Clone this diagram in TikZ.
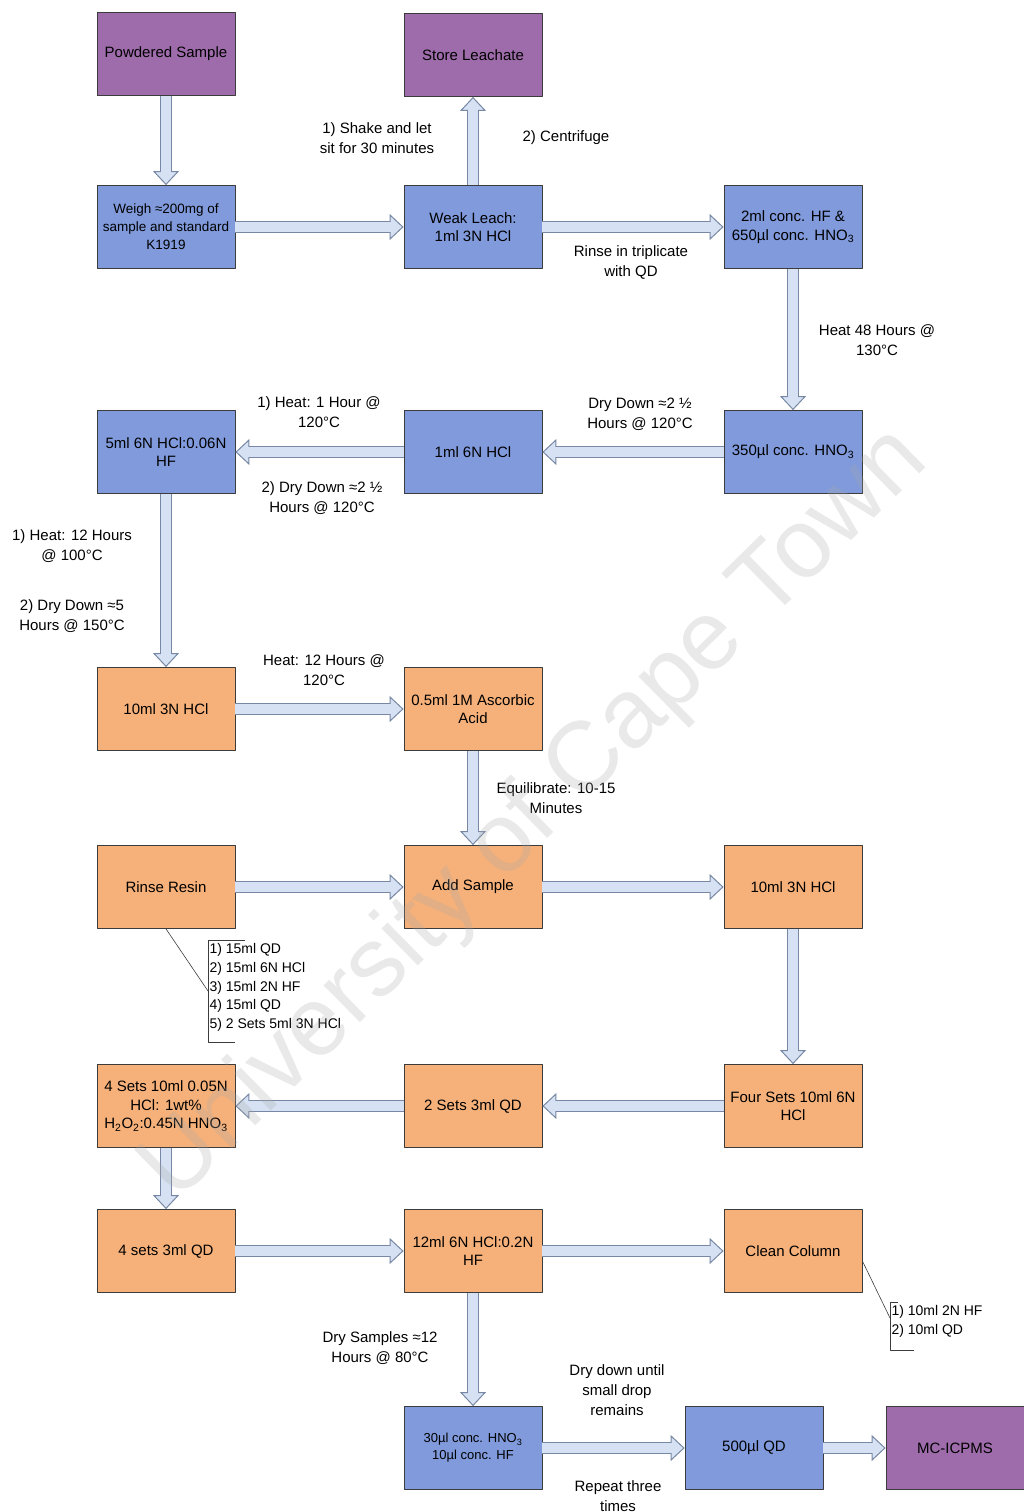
\documentclass[tikz,border=0pt]{standalone}
\usepackage{fontspec}
\setmainfont{Liberation Sans}
\usetikzlibrary{arrows.meta}
\definecolor{boxblue}{RGB}{128,154,220}
\definecolor{boxpurple}{RGB}{158,108,170}
\definecolor{boxorange}{RGB}{246,177,122}
\definecolor{boxline}{RGB}{60,60,60}
\definecolor{flowfill}{RGB}{214,226,243}
\definecolor{flowedge}{RGB}{120,136,164}
\newcommand{\chemsub}[1]{\textsubscript{#1}}
\begin{document}
\begin{tikzpicture}[x=1pt,y=-1pt,line join=round]
	\tikzset{every node/.style={font=\fontsize{15}{20}\selectfont,align=center},
		box/.style={draw=boxline,line width=0.8pt,minimum width=138pt,minimum height=83pt,inner sep=1pt,font=\fontsize{15}{18.5}\selectfont},
		pbox/.style={box,fill=boxpurple},
		bbox/.style={box,fill=boxblue},
		obox/.style={box,fill=boxorange},
		flow/.style={preaction={draw=flowedge,line width=12pt,-,shorten >=13.5pt},
			draw=flowfill,line width=1pt,
			-{Triangle[width=26pt,length=14pt,fill=flowfill,color=flowedge,line width=1pt]},
			postaction={draw=flowfill,line width=10pt,-,shorten >=12pt}},
		callout/.style={draw=boxline,line width=0.6pt},
		list/.style={anchor=north west,align=left,font=\fontsize{14}{18.7}\selectfont}}
	\useasboundingbox (0,0) rectangle (1024,1512);
	% leaching and digestion
	\node[pbox] (ps) at (166,54) {Powdered Sample};
	\node[pbox] (store) at (473,55) {Store Leachate};
	\node[bbox,font=\fontsize{13.5}{18}\selectfont] (weigh) at (166,227) {Weigh ≈200mg of\\sample and standard\\K1919};
	\node[bbox] (leach) at (473,227) {Weak Leach:\\1ml 3N HCl};
	\node[bbox] (hfmix) at (793,227) {2ml conc. HF \&\\650µl conc. HNO\chemsub{3}};
	\node[bbox] (hno) at (793,452) {350µl conc. HNO\chemsub{3}};
	\node[bbox] (hcla) at (473,452) {1ml 6N HCl};
	\node[bbox] (mixa) at (166,452) {5ml 6N HCl:0.06N\\HF};
	% column chemistry
	\node[obox] (hclb) at (166,709) {10ml 3N HCl};
	\node[obox] (asc) at (473,709) {0.5ml 1M Ascorbic\\Acid};
	\node[obox] (resin) at (166,887) {Rinse Resin};
	\node[obox] (addsmp) at (473,887) {Add Sample};
	\node[obox] (hclc) at (793,887) {10ml 3N HCl};
	\node[obox] (fourset) at (793,1106) {Four Sets 10ml 6N\\HCl};
	\node[obox] (qda) at (473,1106) {2 Sets 3ml QD};
	\node[obox] (mixb) at (166,1106) {4 Sets 10ml 0.05N\\HCl: 1wt\%\\H\chemsub{2}O\chemsub{2}:0.45N HNO\chemsub{3}};
	\node[obox] (qdb) at (166,1251) {4 sets 3ml QD};
	\node[obox] (mixc) at (473,1251) {12ml 6N HCl:0.2N\\HF};
	\node[obox] (clean) at (793,1251) {Clean Column};
	% final dilution
	\node[bbox,font=\fontsize{13}{17}\selectfont] (conc) at (473,1448) {30µl conc. HNO\chemsub{3}\\10µl conc. HF};
	\node[bbox] (qdc) at (754,1448) {500µl QD};
	\node[pbox] (icp) at (955,1448) {MC-ICPMS};
	\foreach \a/\b in {ps/weigh,weigh/leach,leach/store,leach/hfmix,hfmix/hno,hno/hcla,hcla/mixa,mixa/hclb,
		hclb/asc,asc/addsmp,resin/addsmp,addsmp/hclc,hclc/fourset,fourset/qda,qda/mixb,mixb/qdb,
		qdb/mixc,mixc/clean,mixc/conc,conc/qdc,qdc/icp}
	\draw[flow] (\a) -- (\b);
	% step conditions
	\node (shake) at (377,138) {1) Shake and let\\sit for 30 minutes};
	\node (spin) at (566,138) {2) Centrifuge};
	\node (trip) at (631,262) {Rinse in triplicate\\with QD};
	\node (heata) at (877,340) {Heat 48 Hours @\\130°C};
	\node (drya) at (640,414) {Dry Down ≈2 ½\\Hours @ 120°C};
	\node (heatb) at (319,412) {1) Heat: 1 Hour @\\120°C};
	\node (dryb) at (322,498) {2) Dry Down ≈2 ½\\Hours @ 120°C};
	\node (heatc) at (72,546) {1) Heat: 12 Hours\\@ 100°C};
	\node (dryc) at (72,616) {2) Dry Down ≈5\\Hours @ 150°C};
	\node (heatd) at (324,670) {Heat: 12 Hours @\\120°C};
	\node (equil) at (556,798) {Equilibrate: 10-15\\Minutes};
	\node (dryd) at (380,1348) {Dry Samples ≈12\\Hours @ 80°C};
	\node (drop) at (617,1390) {Dry down until\\small drop\\remains};
	\node (rep) at (618,1496) {Repeat three\\times};
	% rinse and cleaning lists
	\coordinate (resinbar) at (208,991);
	\draw[callout] (resin.south) -- (resinbar);
	\draw[callout] (245,940) -- (208,940) -- (208,1042) -- (235,1042);
	\node[list] (resinlist) at (206,940) {1) 15ml QD\\2) 15ml 6N HCl\\3) 15ml 2N HF\\4) 15ml QD\\5) 2 Sets 5ml 3N HCl};
	\coordinate (cleanbar) at (890,1318);
	\draw[callout] ([yshift=-10pt]clean.east) -- (cleanbar);
	\draw[callout] (898,1302) -- (890,1302) -- (890,1350) -- (914,1350);
	\node[list] (cleanlist) at (888,1302) {1) 10ml 2N HF\\2) 10ml QD};
	\node[rotate=44.5,text=black!35,opacity=0.25,font=\fontsize{98}{98}\selectfont] (mark) at (536,815) {University of Cape Town};
\end{tikzpicture}
\end{document}
